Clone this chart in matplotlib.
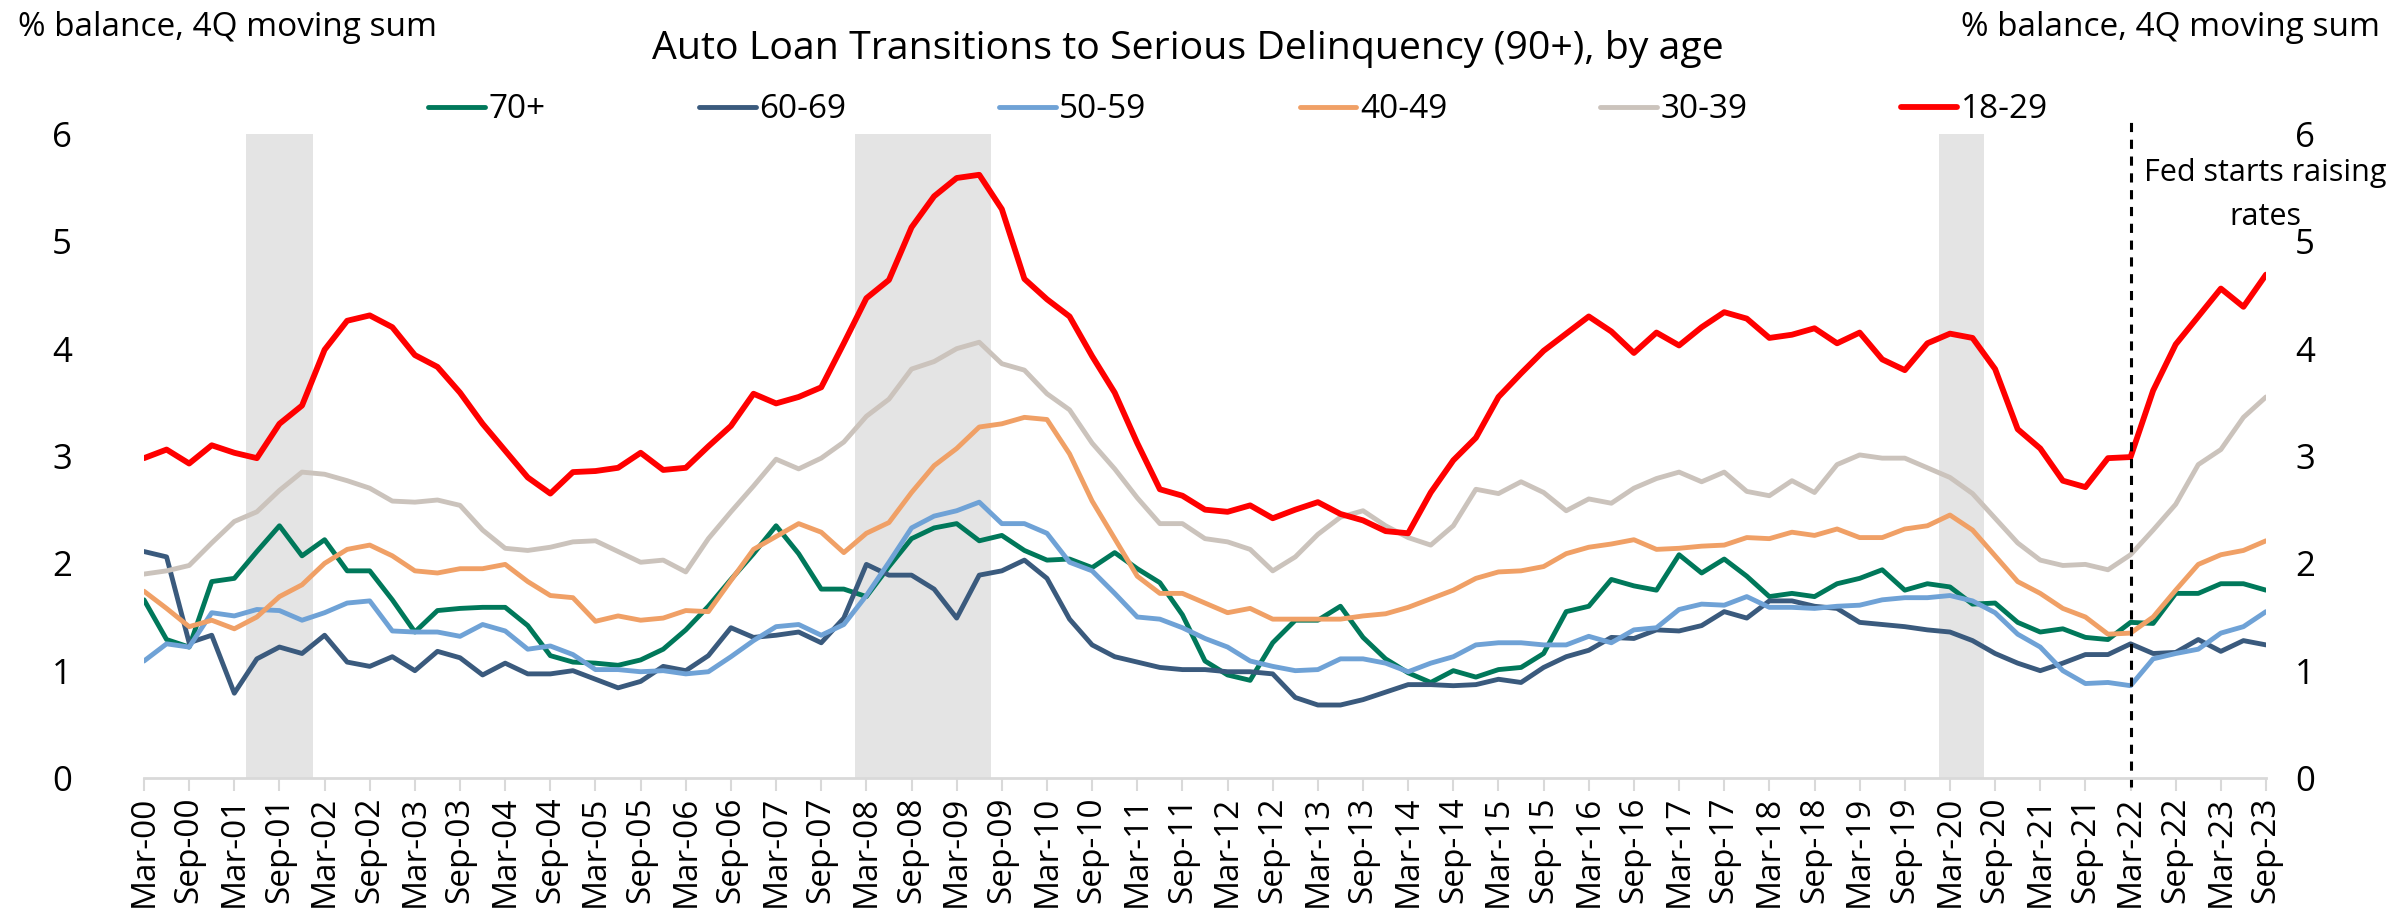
import matplotlib
matplotlib.use("Agg")
import matplotlib.pyplot as plt
import pandas as pd

plt.rcParams['font.family'] = ['Open Sans', 'DejaVu Sans']

# quarterly, Mar-00 .. Sep-23
quarters = pd.date_range("2000-03-31", periods=95, freq="QE")
tick_labels = [d.strftime("%b-%y") for d in quarters]

age_18_29 = [2.98, 3.06, 2.93, 3.10, 3.03, 2.98, 3.30, 3.47, 3.99, 4.26, 4.31, 4.20, 3.94, 3.83, 3.59, 3.30, 3.05, 2.80, 2.65,
             2.85, 2.86, 2.89, 3.03, 2.87, 2.89, 3.09, 3.28, 3.58, 3.49, 3.55, 3.64, 4.05, 4.47, 4.64, 5.13, 5.42,
             5.59, 5.62, 5.30, 4.65, 4.46, 4.30, 3.93, 3.59, 3.12, 2.69, 2.63, 2.50, 2.48, 2.54, 2.42, 2.50, 2.57, 2.46,
             2.40, 2.30, 2.28, 2.66, 2.96, 3.17, 3.55, 3.77, 3.98, 4.14, 4.30, 4.16, 3.96, 4.15, 4.03, 4.20, 4.34, 4.28,
             4.10, 4.13, 4.19, 4.05, 4.15, 3.90, 3.80, 4.05, 4.14, 4.10, 3.81, 3.25, 3.07, 2.77, 2.71, 2.98, 2.99,
             3.61, 4.04, 4.30, 4.56, 4.39, 4.69]
age_30_39 = [1.90, 1.93, 1.98, 2.19, 2.39, 2.48, 2.68, 2.85, 2.83, 2.77, 2.70, 2.58, 2.57, 2.59, 2.54, 2.31, 2.14, 2.12, 2.15,
             2.20, 2.21, 2.11, 2.01, 2.03, 1.92, 2.23, 2.48, 2.72, 2.97, 2.88, 2.98, 3.13, 3.37, 3.53, 3.81, 3.88,
             4.00, 4.06, 3.86, 3.80, 3.58, 3.43, 3.12, 2.88, 2.61, 2.37, 2.37, 2.23, 2.20, 2.13, 1.93, 2.06, 2.27, 2.43,
             2.49, 2.35, 2.24, 2.17, 2.35, 2.69, 2.65, 2.76, 2.66, 2.49, 2.60, 2.56, 2.70, 2.79, 2.85, 2.76, 2.85, 2.67,
             2.63, 2.77, 2.66, 2.92, 3.01, 2.98, 2.98, 2.89, 2.80, 2.65, 2.42, 2.19, 2.03, 1.98, 1.99, 1.94, 2.08,
             2.31, 2.55, 2.92, 3.06, 3.36, 3.55]
age_40_49 = [1.74, 1.58, 1.41, 1.47, 1.39, 1.50, 1.69, 1.80, 2.00, 2.13, 2.17, 2.07, 1.93, 1.91, 1.95, 1.95, 1.99, 1.83, 1.70,
             1.68, 1.46, 1.51, 1.47, 1.49, 1.56, 1.55, 1.84, 2.13, 2.25, 2.37, 2.29, 2.10, 2.28, 2.38, 2.66, 2.91,
             3.07, 3.27, 3.30, 3.36, 3.34, 3.02, 2.58, 2.23, 1.88, 1.72, 1.72, 1.63, 1.54, 1.58, 1.48, 1.48, 1.48, 1.48,
             1.51, 1.53, 1.59, 1.67, 1.75, 1.86, 1.92, 1.93, 1.97, 2.09, 2.15, 2.18, 2.22, 2.13, 2.14, 2.16, 2.17, 2.24,
             2.23, 2.29, 2.26, 2.32, 2.24, 2.24, 2.32, 2.35, 2.45, 2.31, 2.07, 1.83, 1.72, 1.58, 1.50, 1.34, 1.35,
             1.50, 1.75, 1.99, 2.08, 2.12, 2.21]
age_50_59 = [1.09, 1.25, 1.22, 1.54, 1.51, 1.57, 1.56, 1.47, 1.54, 1.63, 1.65, 1.37, 1.36, 1.36, 1.32, 1.43, 1.37, 1.20, 1.23,
             1.15, 1.01, 1.01, 0.99, 1.00, 0.97, 0.99, 1.13, 1.28, 1.41, 1.43, 1.33, 1.43, 1.70, 2.01, 2.33, 2.44,
             2.49, 2.57, 2.37, 2.37, 2.28, 2.01, 1.93, 1.72, 1.50, 1.48, 1.40, 1.30, 1.22, 1.09, 1.04, 1.00, 1.01, 1.11,
             1.11, 1.07, 0.99, 1.07, 1.13, 1.24, 1.26, 1.26, 1.24, 1.24, 1.32, 1.26, 1.38, 1.40, 1.57, 1.62, 1.61, 1.69,
             1.59, 1.59, 1.58, 1.60, 1.61, 1.66, 1.68, 1.68, 1.70, 1.65, 1.54, 1.34, 1.22, 1.00, 0.88, 0.89, 0.86,
             1.11, 1.16, 1.20, 1.35, 1.41, 1.55]
age_60_69 = [2.11, 2.06, 1.26, 1.33, 0.79, 1.11, 1.22, 1.16, 1.33, 1.08, 1.04, 1.13, 1.00, 1.18, 1.12, 0.96, 1.07, 0.97, 0.97,
             1.00, 0.92, 0.84, 0.90, 1.04, 1.00, 1.14, 1.40, 1.31, 1.33, 1.36, 1.26, 1.49, 1.99, 1.89, 1.89, 1.76,
             1.49, 1.89, 1.93, 2.03, 1.86, 1.48, 1.24, 1.13, 1.08, 1.03, 1.01, 1.01, 0.99, 0.99, 0.97, 0.75, 0.68, 0.68,
             0.73, 0.80, 0.87, 0.87, 0.86, 0.87, 0.92, 0.89, 1.03, 1.13, 1.19, 1.31, 1.30, 1.38, 1.37, 1.42, 1.55, 1.49,
             1.65, 1.65, 1.60, 1.58, 1.45, 1.43, 1.41, 1.38, 1.36, 1.28, 1.16, 1.07, 1.00, 1.07, 1.15, 1.15, 1.25,
             1.16, 1.17, 1.29, 1.18, 1.28, 1.24]
age_70_plus = [1.66, 1.29, 1.22, 1.83, 1.86, 2.11, 2.35, 2.07, 2.22, 1.93, 1.93, 1.66, 1.36, 1.56, 1.58, 1.59, 1.59, 1.42, 1.14,
               1.08, 1.07, 1.05, 1.10, 1.20, 1.38, 1.60, 1.85, 2.09, 2.35, 2.09, 1.76, 1.76, 1.69, 1.97, 2.23, 2.33,
               2.37, 2.21, 2.26, 2.12, 2.03, 2.04, 1.96, 2.10, 1.95, 1.82, 1.52, 1.09, 0.96, 0.91, 1.26, 1.47, 1.47, 1.60,
               1.31, 1.11, 0.98, 0.89, 1.00, 0.94, 1.01, 1.03, 1.16, 1.55, 1.60, 1.85, 1.79, 1.75, 2.08, 1.91, 2.04, 1.88,
               1.69, 1.72, 1.69, 1.81, 1.86, 1.94, 1.75, 1.81, 1.78, 1.62, 1.63, 1.45, 1.36, 1.39, 1.31, 1.29, 1.45,
               1.44, 1.72, 1.72, 1.81, 1.81, 1.75]

# recessions (first, last quarter index) and the Fed hike quarter
recessions = [(5, 7), (32, 37), (80, 81)]
fed_hike = 88

series = [("70+", age_70_plus, "#00785A", 3.5),
          ("60-69", age_60_69, "#3A5A7D", 3.5),
          ("50-59", age_50_59, "#6FA2D6", 3.5),
          ("40-49", age_40_49, "#F0A066", 3.5),
          ("30-39", age_30_39, "#CBC3BC", 3.5),
          ("18-29", age_18_29, "#FF0000", 4.2)]

fig = plt.figure(figsize=(23.92, 9.15), dpi=100)
ax = fig.add_axes([144/2392, 137/915, 2122/2392, 644/915])
x = list(range(len(quarters)))

for start, end in recessions:
    ax.axvspan(start - 0.5, end + 0.5, color="#E4E4E4", lw=0, zorder=0)

for name, vals, col, lw in series:
    ax.plot(x, vals, color=col, lw=lw, label=name, solid_joinstyle="round", solid_capstyle="round")

ax.plot([fed_hike, fed_hike], [-0.08, 6.18], color="black", ls=(0, (3, 2.5)), lw=2.2, clip_on=False)

ax.set_xlim(0, len(quarters) - 1)
ax.set_ylim(0, 6)
ax.set_xticks(x[::2])
ax.set_xticklabels(tick_labels[::2], rotation=90, fontsize=24)
ax.tick_params(axis="x", length=9, width=1.5, color="#D9D9D9", pad=4)
ax.set_yticks(range(7))
ax.tick_params(axis="y", length=0, labelsize=25, pad=52)
for s in ["top", "left", "right"]:
    ax.spines[s].set_visible(False)
ax.spines["bottom"].set_color("#D9D9D9")
ax.spines["bottom"].set_linewidth(2)

ax2 = ax.twinx()
ax2.set_ylim(0, 6)
ax2.set_yticks(range(7))
ax2.tick_params(axis="y", length=0, labelsize=25, pad=21)
for s in ["top", "left", "right", "bottom"]:
    ax2.spines[s].set_visible(False)

fig.text(0.4967, 0.946, "Auto Loan Transitions to Serious Delinquency (90+), by age", ha="center", va="center", fontsize=28.3)
fig.text(18/2392, 1 - 27/915, "% balance, 4Q moving sum", ha="left", va="center", fontsize=24)
fig.text(2380/2392, 1 - 27/915, "% balance, 4Q moving sum", ha="right", va="center", fontsize=24)
fig.text(2265/2392, 1 - 181/915, "Fed starts raising", ha="center", va="baseline", fontsize=22)
fig.text(2265/2392, 1 - 225/915, "rates", ha="center", va="baseline", fontsize=22)

fig.legend(loc="center", bbox_to_anchor=(0.5176, 0.880), ncol=6, frameon=False, fontsize=24,
           handlelength=1.7, handletextpad=0.1, columnspacing=4.6, borderpad=0)

fig.savefig("out.png", dpi=100)
